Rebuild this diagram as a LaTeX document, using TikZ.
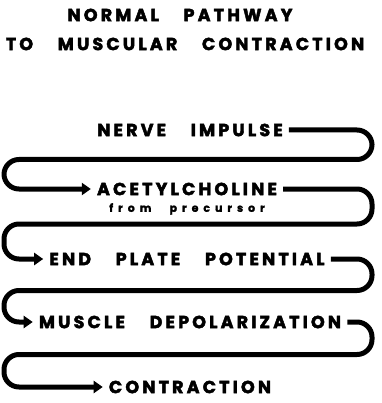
\documentclass[tikz,border=0pt]{standalone}
\usepackage{fontspec}
\usetikzlibrary{positioning, calc, arrows.meta}
\newfontfamily\anchafont{Poppins}[LetterSpace=18, WordSpace=3.6, BoldFeatures={FakeBold=2.5}]
\newfontfamily\notafont{Poppins}[LetterSpace=45, WordSpace=2.5, BoldFeatures={FakeBold=1.5}]

\begin{document}
\begin{tikzpicture}[
    x=1pt, y=-1pt,
    >={Triangle[length=9pt, width=12pt]}, % punta de flecha triangular
    titulo/.style={font=\anchafont\bfseries\fontsize{17.5}{19}\selectfont, inner sep=0pt},
    paso/.style={font=\anchafont\bfseries\fontsize{17.5}{19}\selectfont, inner sep=6pt},
    nota/.style={font=\notafont\bfseries\fontsize{11}{12}\selectfont, inner sep=0pt},
    serpiente/.style={line width=5pt, rounded corners=15pt}
]
    \useasboundingbox (0,0) rectangle (381,403);

    % 1. Titulo
    \node[titulo] (titulo1) at (180,15) {NORMAL PATHWAY};
    \node[titulo, below=16pt of titulo1, xshift=5pt] (titulo2) {TO MUSCULAR CONTRACTION};

    % 2. Pasos de la cadena
    \node[paso] (nervio) at (190,130) {NERVE IMPULSE};
    \node[paso] (acetil) at (187,189) {ACETYLCHOLINE};
    \node[nota, below=14pt of acetil.center] (precursor) {from precursor};
    \node[paso] (placa) at (187,259) {END PLATE POTENTIAL};
    \node[paso] (musculo) at (190,322) {MUSCLE DEPOLARIZATION};
    \node[paso] (contraccion) at (190,387) {CONTRACTION};

    % 3. Bordes de la serpiente
    \coordinate (der) at (372,0);
    \coordinate (izq) at (4,0);

    % 4. Conectores en zigzag
    \draw[serpiente, ->] (nervio.east) -- (nervio.east -| der)
        -- ($(nervio.east -| der)!0.5!(acetil.west -| der)$)
        -- ($(nervio.east -| izq)!0.5!(acetil.west -| izq)$)
        -- (acetil.west -| izq) -- (acetil.west);
    \draw[serpiente, ->] (acetil.east) -- (acetil.east -| der)
        -- ($(acetil.east -| der)!0.5!(placa.west -| der)$)
        -- ($(acetil.east -| izq)!0.5!(placa.west -| izq)$)
        -- (placa.west -| izq) -- (placa.west);
    \draw[serpiente, ->] (placa.east) -- (placa.east -| der)
        -- ($(placa.east -| der)!0.5!(musculo.west -| der)$)
        -- ($(placa.east -| izq)!0.5!(musculo.west -| izq)$)
        -- (musculo.west -| izq) -- (musculo.west);
    \draw[serpiente, ->] (musculo.east) -- (musculo.east -| der)
        -- ($(musculo.east -| der)!0.5!(contraccion.west -| der)$)
        -- ($(musculo.east -| izq)!0.5!(contraccion.west -| izq)$)
        -- (contraccion.west -| izq) -- (contraccion.west);

\end{tikzpicture}
\end{document}
